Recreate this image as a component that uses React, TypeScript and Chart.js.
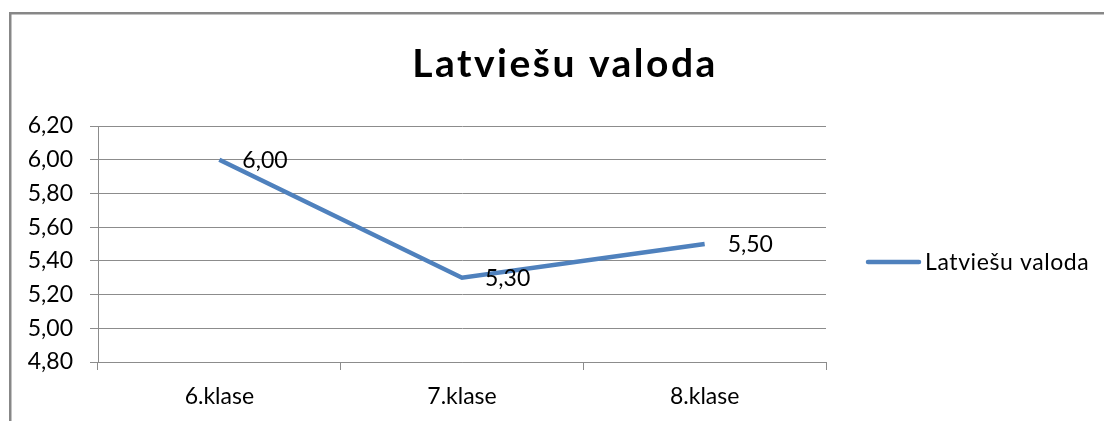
import React, { useEffect, useRef } from "react";
import { Chart, registerables } from "chart.js";

Chart.register(...registerables);

const categories = ["6.klase", "7.klase", "8.klase"];
const seriesName = "Latviešu valoda";
const values = [6.0, 5.3, 5.5];
const titleText = "Latviešu valoda";
const yMin = 4.8;
const yMax = 6.2;
const yStep = 0.2;

const FONT = "Lato, 'Open Sans', sans-serif";
const LINE_COLOR = "#4f81bd";
const GRID_COLOR = "#8c8c8c";

const fmt = (v: number) => v.toFixed(2).replace(".", ",");

const decorPlugin = {
  id: "decor",
  beforeDraw(chart: any) {
    const ctx = chart.ctx;
    ctx.save();
    ctx.fillStyle = "#ffffff";
    ctx.fillRect(0, 0, chart.width, chart.height);
    ctx.fillStyle = "#878787";
    ctx.fillRect(9, 12, chart.width, 2.5);
    ctx.fillRect(9, 12, 2.5, chart.height);
    ctx.restore();
  },
  afterDraw(chart: any) {
    const ctx = chart.ctx;
    ctx.save();
    // title
    ctx.fillStyle = "#000000";
    ctx.font = `bold 39px ${FONT}`;
    ctx.textAlign = "center";
    ctx.textBaseline = "middle";
    (ctx as any).letterSpacing = "2.5px";
    ctx.fillText(titleText, 565, 64);
    (ctx as any).letterSpacing = "0px";
    // data labels
    ctx.font = `23px ${FONT}`;
    ctx.textAlign = "left";
    const meta = chart.getDatasetMeta(0);
    meta.data.forEach((pt: any, i: number) => {
      ctx.fillText(fmt(values[i]), pt.x + 23, pt.y + 1);
    });
    // legend
    ctx.strokeStyle = LINE_COLOR;
    ctx.lineWidth = 4.5;
    ctx.lineCap = "round";
    ctx.beginPath();
    ctx.moveTo(868, 262);
    ctx.lineTo(919, 262);
    ctx.stroke();
    (ctx as any).letterSpacing = "0.6px";
    ctx.fillText(seriesName, 925, 263);
    (ctx as any).letterSpacing = "0px";
    ctx.restore();
  },
};

export default function App() {
  const ref = useRef<HTMLCanvasElement>(null);
  useEffect(() => {
    if (!ref.current) return;
    const chart = new Chart(ref.current, {
      type: "line",
      data: {
        labels: categories,
        datasets: [
          {
            label: seriesName,
            data: values,
            borderColor: LINE_COLOR,
            backgroundColor: LINE_COLOR,
            borderWidth: 4.5,
            pointRadius: 0,
            tension: 0,
          },
        ],
      },
      plugins: [decorPlugin],
      options: {
        animation: false,
        responsive: false,
        devicePixelRatio: 1,
        layout: { padding: { left: 0, right: 278, top: 126, bottom: 0 } },
        plugins: {
          legend: { display: false },
          title: { display: false },
          tooltip: { enabled: false },
        },
        scales: {
          x: {
            type: "category",
            offset: true,
            grid: {
              offset: true,
              drawOnChartArea: false,
              drawTicks: true,
              tickLength: 8,
              color: GRID_COLOR,
            },
            border: { color: GRID_COLOR },
            ticks: {
              color: "#000000",
              font: { family: FONT, size: 23 },
              padding: 13,
              maxRotation: 0,
            },
            afterFit(scale: any) {
              scale.height = 59;
            },
          },
          y: {
            min: yMin,
            max: yMax,
            grid: { color: GRID_COLOR, tickLength: 8 },
            border: { color: GRID_COLOR },
            ticks: {
              stepSize: yStep,
              color: "#000000",
              font: { family: FONT, size: 23 },
              padding: 17,
              callback: (v: any) => fmt(Number(v)),
            },
            afterFit(scale: any) {
              scale.width = 98;
            },
          },
        },
      },
    });
    return () => chart.destroy();
  }, []);
  return (
    <div style={{ position: "absolute", left: 0, top: 0, width: 1104, height: 421 }}>
      <canvas ref={ref} width={1104} height={421} />
    </div>
  );
}
